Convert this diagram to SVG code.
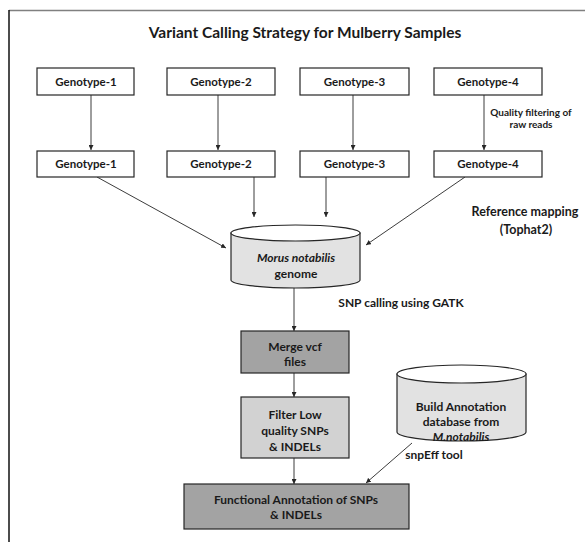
<svg xmlns="http://www.w3.org/2000/svg" width="585" height="542" viewBox="0 0 585 542">
<style>
text{font-family:Lato,"Liberation Sans",sans-serif;font-weight:bold;fill:#1a1a1a;text-anchor:middle}
.t{font-size:15.5px}
.n{font-size:12px}
.g{font-size:11.5px}
.q{font-size:10px}
.r{font-size:12.5px}
.s{font-size:12px}
.e{font-size:12px}
.box{stroke:#262626;stroke-width:1.2}
.w{fill:#fff}
.dk{fill:#a3a3a3}
.lt{fill:#d2d2d2}
.cyl{fill:#e2e2e2;stroke:#262626;stroke-width:1.2}
.top{fill:#fff;stroke:#262626;stroke-width:1.2}
.c{stroke:#262626;stroke-width:0.9;fill:none;marker-end:url(#ah)}
.i{font-style:italic}
</style>
<defs>
<marker id="ah" viewBox="0 0 6 6" refX="6" refY="3" markerWidth="5" markerHeight="5" orient="auto" markerUnits="userSpaceOnUse">
<path d="M0,0 L6,3 L0,6 Z" fill="#262626"/>
</marker>
</defs>
<rect width="585" height="542" fill="#fff"/>
<g id="frame">
<line x1="9" y1="10.5" x2="585" y2="10.5" stroke="#808080" stroke-width="1.5"/>
<line x1="9" y1="10" x2="9" y2="542" stroke="#111" stroke-width="1.5"/>
</g>
<text class="t" x="305" y="38">Variant Calling Strategy for Mulberry Samples</text>
<g id="connectors">
<line class="c" x1="91" y1="95" x2="91" y2="150"/>
<line class="c" x1="218" y1="95" x2="218" y2="150"/>
<line class="c" x1="353" y1="95" x2="353" y2="150"/>
<line class="c" x1="484" y1="95" x2="484" y2="150"/>
<line class="c" x1="97" y1="177" x2="226" y2="248"/>
<line class="c" x1="254" y1="177" x2="254" y2="217"/>
<line class="c" x1="326" y1="177" x2="326" y2="217"/>
<line class="c" x1="465" y1="177" x2="366" y2="245"/>
<line class="c" x1="294" y1="288" x2="294" y2="331"/>
<line class="c" x1="294" y1="373" x2="294" y2="397"/>
<line class="c" x1="294" y1="458" x2="294" y2="484"/>
<line class="c" x1="412" y1="443" x2="366" y2="483"/>
</g>
<g id="labels">
<text class="q" x="531" y="116">Quality filtering of</text>
<text class="q" x="531" y="128">raw reads</text>
<text class="r" x="525" y="216">Reference mapping</text>
<text class="r" x="526" y="234">(Tophat2)</text>
<text class="s" x="401" y="307">SNP calling using GATK</text>
<text class="e" x="434" y="459">snpEff tool</text>
</g>
<g id="g1a"><rect class="box w" x="37" y="68" width="97" height="27"/><text class="g" x="86" y="85.5">Genotype-1</text></g>
<g id="g2a"><rect class="box w" x="167" y="68" width="108" height="27"/><text class="g" x="221" y="85.5">Genotype-2</text></g>
<g id="g3a"><rect class="box w" x="300" y="68" width="109" height="27"/><text class="g" x="354.5" y="85.5">Genotype-3</text></g>
<g id="g4a"><rect class="box w" x="434" y="68" width="108" height="27"/><text class="g" x="488" y="85.5">Genotype-4</text></g>
<g id="g1b"><rect class="box w" x="37" y="151" width="97" height="26"/><text class="g" x="86" y="168">Genotype-1</text></g>
<g id="g2b"><rect class="box w" x="167" y="151" width="108" height="26"/><text class="g" x="221" y="168">Genotype-2</text></g>
<g id="g3b"><rect class="box w" x="300" y="151" width="109" height="26"/><text class="g" x="354.5" y="168">Genotype-3</text></g>
<g id="g4b"><rect class="box w" x="434" y="151" width="108" height="26"/><text class="g" x="488" y="168">Genotype-4</text></g>
<g id="genome">
<path class="cyl" d="M231,233 L231,280 A64.5,8 0 0 0 360,280 L360,233 Z"/>
<ellipse class="top" cx="295.5" cy="233" rx="64.5" ry="8"/>
<text class="n i" x="296" y="262">Morus notabilis</text>
<text class="n" x="296" y="278">genome</text>
</g>
<g id="merge"><rect class="box dk" x="241" y="331" width="108" height="42"/><text class="n" x="295" y="351">Merge vcf</text><text class="n" x="295" y="366">files</text></g>
<g id="filter"><rect class="box lt" x="241" y="397" width="108" height="61"/><text class="n" x="295" y="419">Filter Low</text><text class="n" x="295" y="435">quality SNPs</text><text class="n" x="295" y="451">&amp; INDELs</text></g>
<g id="annotdb">
<path class="cyl" d="M397,374 L397,432 A64.5,9 0 0 0 526,432 L526,374 Z"/>
<ellipse class="top" cx="461.5" cy="374" rx="64.5" ry="9"/>
<text class="n" x="461" y="411">Build Annotation</text>
<text class="n" x="461" y="426">database from</text>
<text class="n i" x="461" y="441">M.notabilis</text>
</g>
<g id="functional"><rect class="box dk" x="184" y="484" width="225" height="45"/><text class="n" x="296" y="504">Functional Annotation of SNPs</text><text class="n" x="296" y="519">&amp; INDELs</text></g>
</svg>
